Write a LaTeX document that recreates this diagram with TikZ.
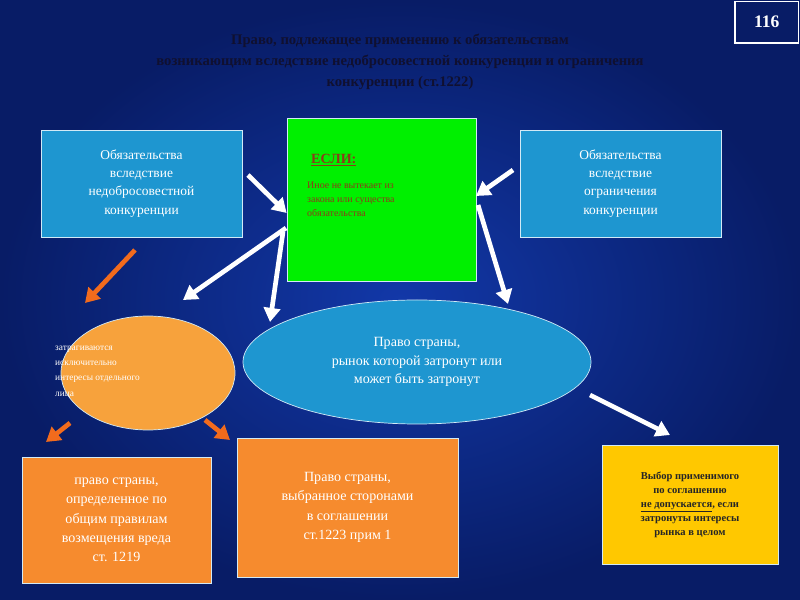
\documentclass[tikz,border=0pt]{standalone}
\usepackage{fontspec}
\setmainfont{Liberation Serif}
\usetikzlibrary{arrows.meta,shapes.geometric}
\definecolor{bgin}{HTML}{1238A8}
\definecolor{bgout}{HTML}{081C66}
\definecolor{cy}{HTML}{1E96D0}
\definecolor{org}{HTML}{F7A23C}
\definecolor{org2}{HTML}{F68B2E}
\definecolor{arrO}{HTML}{F26B1D}
\definecolor{gr}{HTML}{00F000}
\definecolor{brn}{HTML}{8E3A1A}
\definecolor{yel}{HTML}{FFC800}
\definecolor{ttl}{HTML}{101030}
\begin{document}
\begin{tikzpicture}[x=0.03cm,y=-0.03cm,
  box/.style={draw=white!80!cy,line width=0.6pt,align=center,inner sep=0pt},
  warr/.style={draw=white,line width=4pt,-{Triangle[length=12pt,width=14pt]}},
  oarr/.style={draw=arrO,line width=4pt,-{Triangle[length=12pt,width=14pt]}},
  btext/.style={text=white,font=\fontsize{11.5}{15.5}\selectfont}]
\shade[inner color=bgin,outer color=bgout] (0,0) rectangle (800,600);
\useasboundingbox (0,0) rectangle (800,600);
% title
\node[text=ttl,font=\bfseries\fontsize{12.5}{18}\selectfont,align=center] (title) at (400,62)
 {Право, подлежащее применению к обязательствам\\возникающим вследствие недобросовестной конкуренции и ограничения\\конкуренции (ст.1222)};
\node[draw=white,line width=1pt,fill=bgout,text=white,font=\bfseries\fontsize{15}{18}\selectfont,minimum width=63\pgflinewidth,anchor=north east,inner sep=0pt,minimum width=1.9cm,minimum height=1.24cm] (num) at (799,1) {116};
% boxes
\node[box,fill=cy,minimum width=6.03cm,minimum height=3.21cm,btext] (L) at (141.5,183.5)
 {Обязательства\\вследствие\\недобросовестной\\конкуренции};
\node[box,fill=cy,minimum width=6.03cm,minimum height=3.21cm,btext] (R) at (620.5,183.5)
 {Обязательства\\вследствие\\ограничения\\конкуренции};
\node[box,fill=gr,minimum width=5.67cm,minimum height=4.89cm] (G) at (381.5,199.5) {};
\node[anchor=west,text=brn,font=\bfseries\fontsize{12}{14}\selectfont] (esli) at (307,160) {\underline{ЕСЛИ:}};
\node[anchor=north west,text=brn,font=\fontsize{8.5}{12}\selectfont,align=left,inner sep=0pt] (gt) at (307,182)
 {Иное не вытекает из\\закона или существа\\обязательства};
\node[ellipse,box,fill=org,minimum width=5.22cm,minimum height=3.42cm] (OE) at (148,373) {};
\node[anchor=west,text=white,font=\fontsize{8}{13}\selectfont,align=left,inner sep=0pt] (oet) at (55,372)
 {затрагиваются\\исключительно\\интересы отдельного\\лица};
\node[ellipse,box,fill=cy,minimum width=10.44cm,minimum height=3.72cm,btext,font=\fontsize{12}{16}\selectfont] (BE) at (417,362)
 {Право страны,\\рынок которой затронут или\\может быть затронут};
\node[box,fill=org2,minimum width=5.67cm,minimum height=3.78cm,btext,font=\fontsize{12}{16.5}\selectfont] (O1) at (116.5,520)
 {право страны,\\определенное по\\общим правилам\\возмещения вреда\\ст. 1219};
\node[box,fill=org2,minimum width=6.63cm,minimum height=4.17cm,btext,font=\fontsize{12}{16.5}\selectfont] (O2) at (347.5,507.5)
 {Право страны,\\выбранное сторонами\\в соглашении\\ст.1223 прим 1};
\node[box,fill=yel,minimum width=5.28cm,minimum height=3.57cm,text=black!85,font=\bfseries\fontsize{9}{12}\selectfont] (Y) at (690,504.5)
 {Выбор применимого\\по соглашению\\\underline{не допускается}, если\\затронуты интересы\\рынка в целом};
% arrows
\coordinate (a1) at (248,175); \coordinate (a2) at (513,170);
\coordinate (a3) at (590,395); \coordinate (a4) at (135,250);
\coordinate (a5) at (70,423); \coordinate (a6) at (205,420);
\coordinate (g1) at (286,228); \coordinate (g2) at (283,232); \coordinate (g3) at (478,205);
\draw[warr] (a1) -- (G.west |- 0,213);
\draw[warr] (a2) -- (476,196);
\draw[warr] (g1) -- (183,300);
\draw[warr] (g2) -- (270,322);
\draw[warr] (g3) -- (508,304);
\draw[warr] (a3) -- (670,435);
\draw[oarr] (a4) -- (85,303);
\draw[oarr] (a5) -- (46,442);
\draw[oarr] (a6) -- (230,440);
\end{tikzpicture}
\end{document}
